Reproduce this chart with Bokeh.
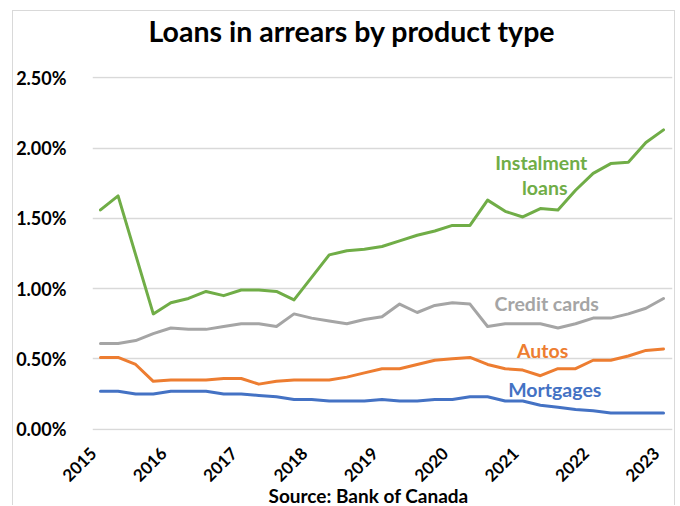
import math
from bokeh.plotting import figure
from bokeh.models import Range1d, Label, FixedTicker, PrintfTickFormatter, Title
from bokeh.embed import file_html
from bokeh.resources import INLINE

# ---- data (quarterly, 2015Q1 .. 2023Q1), values in percent ----
years = ["2015", "2016", "2017", "2018", "2019", "2020", "2021", "2022", "2023"]
quarters = list(range(33))
instalment = [1.56, 1.66, 1.24, 0.82, 0.90, 0.93, 0.98, 0.95, 0.99, 0.99, 0.98,
              0.92, 1.08, 1.24, 1.27, 1.28, 1.30, 1.34, 1.38, 1.41, 1.45, 1.45,
              1.63, 1.55, 1.51, 1.57, 1.56, 1.70, 1.82, 1.89, 1.90, 2.04, 2.13]
credit_cards = [0.61, 0.61, 0.63, 0.68, 0.72, 0.71, 0.71, 0.73, 0.75, 0.75, 0.73,
                0.82, 0.79, 0.77, 0.75, 0.78, 0.80, 0.89, 0.83, 0.88, 0.90, 0.89,
                0.73, 0.75, 0.75, 0.75, 0.72, 0.75, 0.79, 0.79, 0.82, 0.86, 0.93]
autos = [0.51, 0.51, 0.46, 0.34, 0.35, 0.35, 0.35, 0.36, 0.36, 0.32, 0.34,
         0.35, 0.35, 0.35, 0.37, 0.40, 0.43, 0.43, 0.46, 0.49, 0.50, 0.51,
         0.46, 0.43, 0.42, 0.38, 0.43, 0.43, 0.49, 0.49, 0.52, 0.56, 0.57]
mortgages = [0.27, 0.27, 0.25, 0.25, 0.27, 0.27, 0.27, 0.25, 0.25, 0.24, 0.23,
             0.21, 0.21, 0.20, 0.20, 0.20, 0.21, 0.20, 0.20, 0.21, 0.21, 0.23,
             0.23, 0.20, 0.20, 0.17, 0.155, 0.14, 0.13, 0.115, 0.115, 0.115, 0.115]
y_ticks = [0.0, 0.5, 1.0, 1.5, 2.0, 2.5]

title_text = "Loans in arrears by product type"
source_text = "Source: Bank of Canada"

GREEN = "#70AD47"
GRAY = "#A5A5A5"
ORANGE = "#ED7D31"
BLUE = "#4472C4"
FONT = "Lato"
LABEL_SHIFT = 0.4   # nudge rotated year labels left so their ends sit at the year point

p = figure(width=663, height=495, output_backend="svg", toolbar_location=None,
           x_range=Range1d(-0.454, 32.51), y_range=Range1d(-0.01, 2.51),
           min_border_left=78, min_border_right=4, min_border_top=64,
           min_border_bottom=76,
           styles={"margin-left": "12px", "margin-top": "10px",
                   "border-left": "1px solid #D9D9D9",
                   "border-top": "1px solid #D9D9D9",
                   "border-right": "1px solid #D9D9D9"})
p.outline_line_color = None
p.background_fill_color = "white"
p.border_fill_color = "white"

# spacer panel (nearest the frame), then the chart title above it
p.add_layout(Title(text=" ", standoff=0, text_font=FONT, text_font_size="22px"), "above")
p.add_layout(Title(text=title_text, align="left", offset=56, standoff=0, text_font=FONT,
                   text_font_style="bold", text_font_size="28.5px", text_color="black"),
             "above")

src = Title(text=source_text, align="left", offset=176, standoff=-16, text_font=FONT,
            text_font_style="bold", text_font_size="19px", text_color="black")
p.add_layout(src, "below")

p.xgrid.visible = False
p.ygrid.grid_line_color = "#D9D9D9"
p.ygrid.grid_line_width = 1.3
p.yaxis.ticker = FixedTicker(ticks=y_ticks)
p.yaxis.formatter = PrintfTickFormatter(format="%.2f%%")
x_tick_pos = [quarters[4 * i] - LABEL_SHIFT for i in range(len(years))]
p.xaxis.ticker = FixedTicker(ticks=x_tick_pos)
p.xaxis.major_label_overrides = {t: y for t, y in zip(x_tick_pos, years)}
p.xaxis.major_label_orientation = math.pi / 4

for ax in (p.xaxis[0], p.yaxis[0]):
    ax.axis_line_color = None
    ax.major_tick_line_color = None
    ax.minor_tick_line_color = None
    ax.major_label_text_font = FONT
    ax.major_label_text_font_style = "bold"
    ax.major_label_text_color = "black"
p.yaxis.major_label_text_font_size = "18px"
p.yaxis.major_label_standoff = 20
p.xaxis.major_label_text_font_size = "17px"
p.xaxis.major_label_standoff = 14

for ys, col in ((mortgages, BLUE), (autos, ORANGE), (credit_cards, GRAY), (instalment, GREEN)):
    p.line(quarters, ys, line_color=col, line_width=3, line_join="round", line_cap="round")

def lab(x, y, text, color, size, align="center"):
    p.add_layout(Label(x=x, y=y, text=text, text_color=color, text_font=FONT,
                       text_font_style="bold", text_font_size=size,
                       text_align=align, text_baseline="alphabetic"))

lab(25.05, 1.900, "Instalment", GREEN, "19.5px")
lab(25.25, 1.722, "loans", GREEN, "19.5px")
lab(25.36, 0.892, "Credit cards", GRAY, "19.5px")
lab(25.13, 0.559, "Autos", ORANGE, "19.5px")
lab(25.82, 0.282, "Mortgages", BLUE, "19.5px")

open("out.html", "w").write(file_html(p, INLINE))
